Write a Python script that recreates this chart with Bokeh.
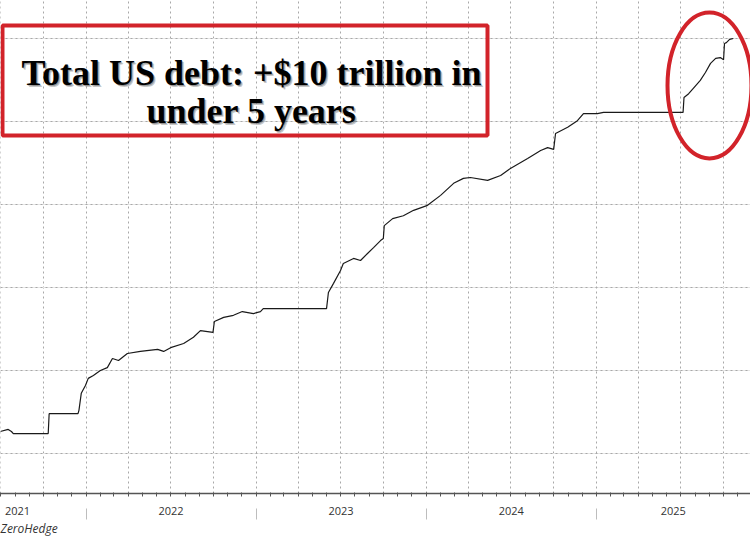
from datetime import datetime, timedelta
import pandas as pd
from bokeh.plotting import figure
from bokeh.models import (ColumnDataSource, FixedTicker, LinearAxis, CustomJSTickFormatter,
                          BoxAnnotation, Range1d, Title, Grid)
from bokeh.core.properties import value
from bokeh.embed import file_html
from bokeh.resources import INLINE

# ---------------- data (total US public debt, $ trillions) ----------------
dates = [
    "2021-06-30", "2021-07-17", "2021-07-24", "2021-07-28", "2021-10-11", "2021-10-13",
    "2021-12-14", "2021-12-16", "2021-12-21", "2021-12-30", "2022-01-05", "2022-01-16",
    "2022-01-31", "2022-02-15", "2022-02-26", "2022-03-11", "2022-03-30", "2022-04-27",
    "2022-06-03", "2022-06-16", "2022-07-01", "2022-07-29", "2022-08-19", "2022-09-03",
    "2022-09-30", "2022-10-03", "2022-10-23", "2022-11-13", "2022-12-02", "2022-12-26",
    "2023-01-10", "2023-01-16", "2023-06-01", "2023-06-05", "2023-06-16", "2023-07-01",
    "2023-07-07", "2023-07-29", "2023-08-13", "2023-08-28", "2023-09-10", "2023-09-25",
    "2023-10-01", "2023-10-03", "2023-10-21", "2023-11-13", "2023-12-05", "2024-01-04",
    "2024-02-01", "2024-02-29", "2024-03-21", "2024-04-05", "2024-05-12", "2024-06-09",
    "2024-06-30", "2024-08-06", "2024-09-03", "2024-09-18", "2024-10-01", "2024-10-05",
    "2024-10-31", "2024-11-21", "2024-12-04", "2025-01-03", "2025-01-16", "2025-07-06",
    "2025-07-08", "2025-07-18", "2025-07-28", "2025-08-12", "2025-08-23", "2025-09-03",
    "2025-09-14", "2025-09-24", "2025-10-01", "2025-10-03", "2025-10-07", "2025-10-14",
    "2025-10-22",
]
debt = [
    28.53, 28.58, 28.53, 28.48, 28.48, 28.96,
    28.96, 29.04, 29.45, 29.64, 29.81, 29.88,
    30.00, 30.07, 30.29, 30.24, 30.41, 30.46,
    30.51, 30.46, 30.55, 30.65, 30.80, 30.96,
    30.92, 31.18, 31.28, 31.33, 31.42, 31.37,
    31.42, 31.49, 31.49, 31.88, 32.10, 32.41,
    32.58, 32.70, 32.65, 32.82, 32.96, 33.13,
    33.18, 33.49, 33.66, 33.73, 33.86, 33.98,
    34.22, 34.51, 34.63, 34.65, 34.58, 34.70,
    34.87, 35.11, 35.30, 35.37, 35.33, 35.71,
    35.86, 36.02, 36.19, 36.19, 36.22, 36.22,
    36.58, 36.67, 36.80, 36.99, 37.18, 37.40,
    37.52, 37.54, 37.49, 37.88, 37.90, 37.98,
    38.00,
]
year_labels = ["2021", "2022", "2023", "2024", "2025"]
year_label_dates = ["2021-08-06", "2022-07-02", "2023-07-02", "2024-07-02", "2025-06-15"]
year_bounds = ["2022-01-01", "2023-01-01", "2024-01-01", "2025-01-01"]
y_grid_values = [28, 30, 32, 34, 36, 38]
title_lines = ["Total US debt: +$10 trillion in", "under 5 years"]
source_text = "ZeroHedge"

# ---------------- helpers ----------------
def ms(d):
    return pd.Timestamp(d).value / 1e6

ORIGIN = datetime(2021, 1, 1)
PX_PER_YEAR = 170.0
def px_x(px):
    # reference-image pixel column -> datetime
    return ORIGIN + timedelta(days=(px + 84) / PX_PER_YEAR * 365.25)

def px_y(py):
    # reference-image pixel row -> value
    return 28 + (453 - py) / 41.5

month_ticks = [ms(d) for d in pd.date_range("2021-07-01", "2025-12-01", freq="MS")]
quarter_ticks = [ms(d) for d in pd.date_range("2021-07-01", "2025-12-01", freq="QS")]

RED = "#d2232a"
GRID = "#a8a8a8"

p = figure(width=750, height=536, x_axis_type="datetime", y_axis_location=None,
           output_backend="svg", toolbar_location=None,
           x_range=Range1d(px_x(0), px_x(750)), y_range=Range1d(px_y(493), px_y(0)),
           min_border_left=0, min_border_right=0, min_border_top=0, min_border_bottom=0,
           outline_line_color=None, background_fill_color="white")

# grid
p.xgrid.ticker = FixedTicker(ticks=quarter_ticks)
p.xgrid.grid_line_color = GRID
p.xgrid.grid_line_dash = "2 3"
p.xgrid.grid_line_width = 1
p.add_layout(Grid(dimension=1, ticker=FixedTicker(ticks=y_grid_values),
                  grid_line_color=GRID, grid_line_dash="2 3", grid_line_width=1))

# main x axis: line + monthly ticks, no labels
ax = p.xaxis[0]
ax.ticker = FixedTicker(ticks=month_ticks)
ax.axis_line_color = "#555555"
ax.axis_line_width = 1.3
ax.major_tick_line_color = "#555555"
ax.major_tick_in = 1
ax.major_tick_out = 3
ax.minor_tick_line_color = None
ax.major_label_text_color = None
ax.major_label_text_font_size = "1px"
ax.major_label_standoff = 0

# year labels + separators
yticks = [ms(d) for d in year_label_dates]
yax = LinearAxis(ticker=FixedTicker(ticks=yticks, minor_ticks=[ms(d) for d in year_bounds]),
                 formatter=CustomJSTickFormatter(args=dict(ypos=yticks, ylab=year_labels), code="""
                     let best = 0, bd = Infinity;
                     for (let i = 0; i < ypos.length; i++) {
                         const d = Math.abs(ypos[i] - tick);
                         if (d < bd) { bd = d; best = i; }
                     }
                     return ylab[best];
                 """))
yax.axis_line_color = None
yax.major_tick_line_color = None
yax.major_tick_out = 0
yax.major_tick_in = 0
yax.minor_tick_line_color = "#bdbdbd"
yax.minor_tick_out = 23
yax.minor_tick_in = -12
yax.major_label_standoff = -13
yax.major_label_text_font = "Open Sans"
yax.major_label_text_font_size = "11px"
yax.major_label_text_color = "#333333"
p.add_layout(yax, "below")

p.add_layout(Title(text=source_text, align="left", text_font="Open Sans",
                   text_font_style="italic", text_font_size="12px", text_color="#333333",
                   offset=0, standoff=0), "below")

# debt line
src = ColumnDataSource(dict(date=pd.to_datetime(dates), debt=debt))
p.line("date", "debt", source=src, line_color="#1a1a1a", line_width=1.2)

# title box
p.add_layout(BoxAnnotation(left=px_x(2), right=px_x(487), top=px_y(25), bottom=px_y(135),
                           fill_color=None, fill_alpha=0, line_color=RED, line_alpha=1.0,
                           line_width=4))
tx = [px_x(251), px_x(251)]
ty = [px_y(72), px_y(110)]
for dx, dy, col, alpha in [(2, 2, "#000000", 0.22), (1, 1, "#000000", 0.25), (0, 0, "#000000", 1.0)]:
    p.text(x=tx, y=ty, text=title_lines, x_offset=dx, y_offset=dy,
           text_font=value("Liberation Serif"), text_font_style="bold",
           text_font_size="36px", text_align="center", text_baseline="alphabetic",
           text_color=col, text_alpha=alpha)

# red ellipse
p.ellipse(x=[px_x(709)], y=[px_y(85)], width=84, height=146,
          width_units="screen", height_units="screen",
          fill_color=None, line_color=RED, line_width=4)

open("out.html", "w").write(file_html(p, INLINE))
